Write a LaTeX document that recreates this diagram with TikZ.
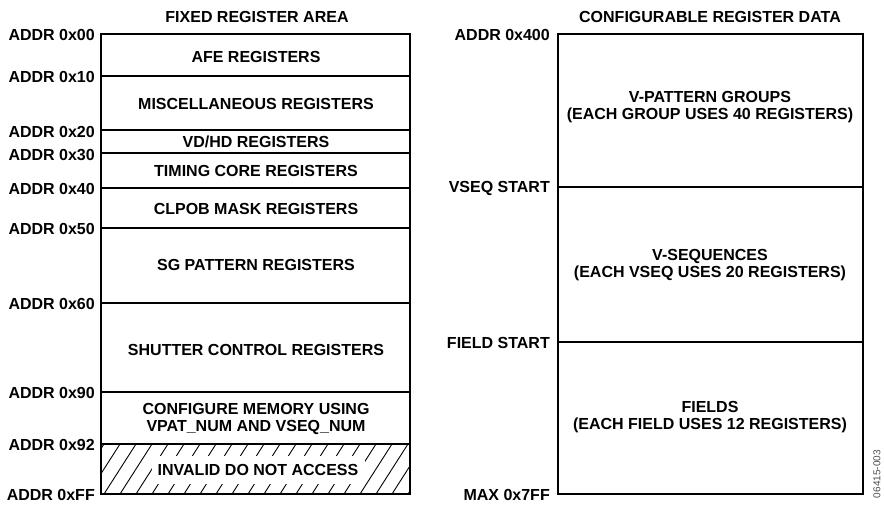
\documentclass[tikz,border=0pt]{standalone}
\usepackage{fontspec}
\setmainfont{Liberation Sans}
\usepackage{tikz}
\usetikzlibrary{positioning}

\tikzset{
  lbl/.style={font=\fontsize{16}{16.8}\selectfont\bfseries, inner sep=0pt},
  blk/.style={lbl, align=center},
  frame/.style={line width=1.8pt},
  divider/.style={line width=1.1pt},
}

\begin{document}
\begin{tikzpicture}[x=1pt, y=-1pt]
\useasboundingbox (0,0) rectangle (884,504);
% titles
\node[lbl] (fixtitle) at (257,17) {FIXED REGISTER AREA};
\node[lbl] (cfgtitle) at (710,17) {CONFIGURABLE REGISTER DATA};
% hatched area at the bottom
\begin{scope}
\clip (101,444) rectangle (410,494);
\foreach \x in {-40,-24,...,420}
  \draw[line width=0.9pt] (\x,494) -- ++(32,-50);
\end{scope}
\node[blk, fill=white, minimum width=213pt, minimum height=28pt] (invalid) at (258,470) {INVALID DO NOT ACCESS};
% fixed register area
\foreach \y in {76,130,153,188,228,303,392,444}
  \draw[divider] (101,\y) -- (410,\y);
\draw[frame] (101,34) rectangle (410,494);
\foreach \y/\lbl [count=\i] in {35/0x00, 77/0x10, 132/0x20, 155/0x30, 189/0x40, 229/0x50, 304/0x60, 393/0x90, 445/0x92, 495/0xFF}
  \node[lbl, anchor=east] (addr\i) at (95,\y) {ADDR \lbl};
\foreach \y/\txt [count=\i] in {57/{AFE REGISTERS}, 104/{MISCELLANEOUS REGISTERS}, 142/{VD/HD REGISTERS}, 171/{TIMING CORE REGISTERS}, 209/{CLPOB MASK REGISTERS}, 265/{SG PATTERN REGISTERS}, 350/{SHUTTER CONTROL REGISTERS}, 419/{CONFIGURE MEMORY USING\\VPAT\_NUM AND VSEQ\_NUM}}
  \node[blk] (reg\i) at (256,\y) {\txt};
% configurable register data
\foreach \y in {187,342}
  \draw[divider] (558,\y) -- (863,\y);
\draw[frame] (558,34) rectangle (863,494);
\foreach \y/\lbl [count=\i] in {35/ADDR 0x400, 188/VSEQ START, 343/FIELD START, 495/MAX 0x7FF}
  \node[lbl, anchor=east] (cfg\i) at (550,\y) {\lbl};
\foreach \y/\txt [count=\i] in {107/{V-PATTERN GROUPS\\(EACH GROUP USES 40 REGISTERS)}, 265/{V-SEQUENCES\\(EACH VSEQ USES 20 REGISTERS)}, 417/{FIELDS\\(EACH FIELD USES 12 REGISTERS)}}
  \node[blk] (data\i) at (710,\y) {\txt};
\node[font=\fontsize{10}{10}\selectfont, rotate=90, anchor=east, black!70, inner sep=0pt] (fignum) at (877,450) {06415-003};
\end{tikzpicture}
\end{document}
